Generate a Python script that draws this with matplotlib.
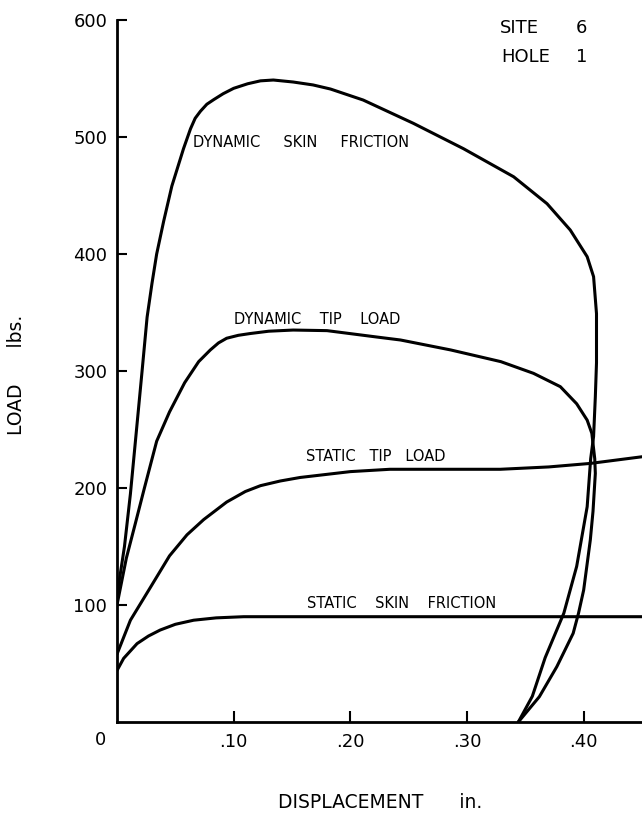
import matplotlib
matplotlib.use("Agg")
import matplotlib.pyplot as plt

# Load vs displacement, site 6 hole 1
dyn_skin_x = [0, 0.0064, 0.0115, 0.0215, 0.0258, 0.030, 0.034, 0.040, 0.047, 0.057,
              0.063, 0.067, 0.0715, 0.077, 0.083, 0.091, 0.100, 0.112, 0.123, 0.134,
              0.151, 0.168, 0.183, 0.211, 0.254, 0.297, 0.340, 0.3686, 0.3885, 0.403,
              0.4085, 0.411, 0.411, 0.410, 0.4085, 0.406, 0.403, 0.394, 0.383, 0.367,
              0.356, 0.344]
dyn_skin_y = [108, 150, 195, 300, 346, 375, 400, 428, 458, 490,
              507, 516, 522, 528, 532, 537, 541.6, 545.5, 548, 548.7,
              547, 544.5, 541, 531.6, 511.7, 490, 466, 443, 420.5, 397.7,
              380.6, 349, 307, 278, 244, 225, 184, 133, 93, 55,
              22, 0]

dyn_tip_x = [0, 0.008, 0.0158, 0.0235, 0.034, 0.045, 0.058, 0.070, 0.080, 0.087,
             0.094, 0.104, 0.114, 0.130, 0.151, 0.180, 0.223, 0.243, 0.286, 0.329,
             0.357, 0.380, 0.394, 0.403, 0.407, 0.4095, 0.410, 0.408, 0.4057, 0.400,
             0.3956, 0.391, 0.377, 0.362, 0.344]
dyn_tip_y = [100, 140, 170, 200, 240, 265, 290, 308, 318, 324,
             328, 330.5, 332, 334, 335, 334.5, 329, 326.5, 318, 308,
             298, 286.6, 272, 258, 246.7, 225, 212.5, 180, 155.6, 112.8,
             93, 75.8, 47.3, 21.6, 0]

stat_tip_x = [0, 0.0115, 0.0286, 0.045, 0.060, 0.0743, 0.094, 0.110, 0.123, 0.140,
              0.157, 0.200, 0.234, 0.271, 0.3285, 0.370, 0.4056, 0.450]
stat_tip_y = [58, 87, 115, 142, 160, 173, 188, 197, 202, 206,
              209, 214, 216, 216, 216, 218, 221, 226.7]

stat_skin_x = [0, 0.0057, 0.0172, 0.027, 0.037, 0.050, 0.0657, 0.085, 0.1086, 0.234,
               0.450]
stat_skin_y = [44, 54.4, 67, 73.5, 78.6, 83.5, 87, 89, 90, 90,
               90]

x_ticks = [0.1, 0.2, 0.3, 0.4]
x_labels = ['.10', '.20', '.30', '.40']
y_ticks = [100, 200, 300, 400, 500, 600]
y_labels = ['100', '200', '300', '400', '500', '600']

fig = plt.figure(figsize=(6.42, 8.19), dpi=100)
ax = fig.add_axes([117 / 642, 1 - 722 / 819, 1 - 117 / 642, (722 - 20) / 819])

for xs, ys in [(dyn_skin_x, dyn_skin_y), (dyn_tip_x, dyn_tip_y),
               (stat_tip_x, stat_tip_y), (stat_skin_x, stat_skin_y)]:
    ax.plot(xs, ys, color='black', lw=2.2, solid_capstyle='round',
            solid_joinstyle='round')

ax.set_xlim(0, 0.45)
ax.set_ylim(0, 600)
ax.spines['top'].set_visible(False)
ax.spines['right'].set_visible(False)
ax.spines['left'].set_linewidth(2)
ax.spines['bottom'].set_linewidth(2)

ax.set_xticks(x_ticks)
ax.set_xticklabels(x_labels)
ax.set_yticks(y_ticks)
ax.set_yticklabels(y_labels)
ax.tick_params(axis='x', direction='in', length=8, width=1.5, pad=8, labelsize=13)
ax.tick_params(axis='y', direction='in', length=7, width=1.5, pad=7, labelsize=13)

fs = 10.5
ax.text(0.0655, 495, 'DYNAMIC     SKIN     FRICTION', fontsize=fs, va='center')
ax.text(0.100, 344, 'DYNAMIC    TIP    LOAD', fontsize=fs, va='center')
ax.text(0.1623, 226.7, 'STATIC   TIP   LOAD', fontsize=fs, va='center')
ax.text(0.163, 101.5, 'STATIC    SKIN    FRICTION', fontsize=fs, va='center')

fig.text(500 / 642, 1 - 28 / 819, 'SITE', fontsize=13, va='center')
fig.text(581.7 / 642, 1 - 28 / 819, '6', fontsize=13, va='center', ha='center')
fig.text(501.7 / 642, 1 - 57 / 819, 'HOLE', fontsize=13, va='center')
fig.text(581.7 / 642, 1 - 57 / 819, '1', fontsize=13, va='center', ha='center')

fig.text(100 / 642, 1 - 740 / 819, '0', fontsize=13, ha='center', va='center')
fig.text(17 / 642, 1 - 375 / 819, 'LOAD      lbs.', fontsize=13.5, rotation=90,
         ha='center', va='center')
fig.text(380 / 642, 1 - 803 / 819, 'DISPLACEMENT      in.', fontsize=13.5,
         ha='center', va='center')

fig.savefig('out.png', dpi=100)
